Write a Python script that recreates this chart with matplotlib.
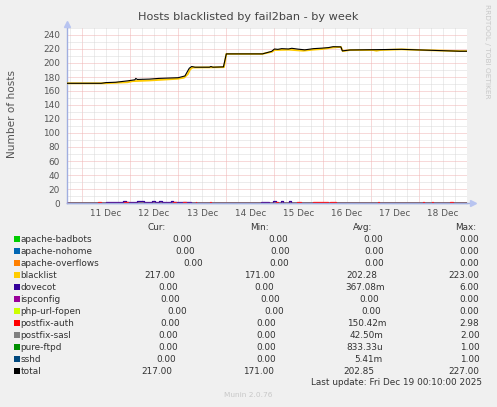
import matplotlib.pyplot as plt
from matplotlib.patches import Rectangle

W, H = 497, 407

# time in days since 11 Dec 00:00
day_labels = ['11 Dec', '12 Dec', '13 Dec', '14 Dec', '15 Dec', '16 Dec', '17 Dec', '18 Dec']

blacklist_t = [-0.32, 0.45, 0.95, 1.05, 1.4, 1.65, 2.0, 2.12, 2.2, 2.25, 2.3, 2.95, 3.0,
               3.75, 3.95, 4.0, 4.3, 4.6, 4.8, 5.0, 5.2, 5.38, 5.42, 5.57, 6.05, 6.12,
               6.2, 6.64, 7.05, 7.85, 8.02]
blacklist_v = [171, 171, 172.5, 174, 175, 176, 177.5, 179, 184, 191, 193.5, 194, 213,
               213, 216, 218.5, 219, 217.5, 219, 220, 222, 223, 217, 218.5, 218.5, 217.5,
               218.5, 219.5, 218.5, 217, 217]

total_t = [-0.32, 0.4, 0.5, 0.7, 0.95, 1.1, 1.12, 1.15, 1.4, 1.6, 2.0, 2.14, 2.23, 2.28,
           2.35, 2.65, 2.68, 2.72, 2.94, 3.0, 3.75, 3.94, 4.0, 4.07, 4.15, 4.29, 4.36,
           4.49, 4.63, 4.81, 4.98, 5.12, 5.22, 5.38, 5.41, 5.57, 6.64, 7.05, 7.85, 8.02]
total_v = [171, 171, 172, 172.5, 174.5, 176, 178, 176.5, 177, 178, 179, 181.5, 192.5, 195,
           194, 194, 195, 194, 194.5, 213, 213, 216.6, 220, 219.5, 220.5, 220, 221,
           219.8, 218.8, 220.5, 221.2, 222, 223.3, 223, 217.3, 218.6, 219.5, 218.6, 216.8, 216.8]

# bursts: (start day, end day, value)
dovecot_bursts = [(0.5, 0.85, 1.5), (0.85, 0.92, 3), (0.92, 1.15, 1.5), (1.15, 1.3, 3.5),
                  (1.3, 1.45, 1.5), (1.45, 1.52, 3), (1.52, 1.6, 1.5), (1.6, 1.66, 2.5),
                  (1.66, 1.85, 1.5), (1.85, 1.9, 2.5), (1.9, 2.27, 1.5),
                  (3.72, 3.89, 1.5), (3.97, 4.03, 3), (4.13, 4.17, 2.5), (4.3, 4.34, 2.5)]
postfix_auth_bursts = [(0.34, 0.40, 1.5), (0.88, 0.96, 1.5), (1.9, 1.96, 1.5), (2.1, 2.17, 1.5),
                       (2.36, 2.38, 1.5), (2.67, 2.69, 1.5), (4.03, 4.07, 1.5), (4.47, 4.55, 1.5),
                       (4.8, 5.11, 1.5), (5.15, 5.27, 1.5), (6.16, 6.18, 1.5), (7.09, 7.11, 1.5),
                       (7.28, 7.30, 1.5), (7.64, 7.7, 1.5)]

legend_names = ['apache-badbots', 'apache-nohome', 'apache-overflows', 'blacklist', 'dovecot',
                'ispconfig', 'php-url-fopen', 'postfix-auth', 'postfix-sasl', 'pure-ftpd',
                'sshd', 'total']
legend_colors = ['#00cc00', '#0066b3', '#ff8000', '#ffcc00', '#330099', '#990099',
                 '#ccff00', '#ff0000', '#808080', '#008f00', '#00487d', '#000000']
cur = ['0.00', '0.00', '0.00', '217.00', '0.00', '0.00', '0.00', '0.00', '0.00', '0.00', '0.00', '217.00']
mins = ['0.00', '0.00', '0.00', '171.00', '0.00', '0.00', '0.00', '0.00', '0.00', '0.00', '0.00', '171.00']
avgs = ['0.00', '0.00', '0.00', '202.28', '367.08m', '0.00', '0.00', '150.42m', '42.50m',
        '833.33u', '5.41m', '202.85']
maxs = ['0.00', '0.00', '0.00', '223.00', '6.00', '0.00', '0.00', '2.98', '2.00', '1.00', '1.00', '227.00']
# left edge (px) of each value, rrdtool column layout
cur_x = [172.7, 175.7, 183.3, 144, 158, 160.7, 167.3, 160.7, 158, 158, 156, 141.3]
min_x = [268.3, 270, 269.3, 244.3, 254.7, 260, 264.7, 256, 256, 256, 256, 243.3]
avg_x = [363.3, 364.3, 364.3, 346.7, 345, 359.3, 361.7, 346.7, 350, 346.7, 354, 343.3]

plt.rcParams['font.family'] = 'DejaVu Sans'

fig = plt.figure(figsize=(W / 100, H / 100), dpi=100, facecolor='#f0f0f0')
ax = fig.add_axes([67 / W, 1 - 203 / H, 400 / W, 175 / H])
ax.set_facecolor('white')
x0, x1 = -0.31, 8.0
ax.set_xlim(x0, x1)
ax.set_ylim(0, 250)

# grid
dot = (0, (1, 1))
for i in range(-1, 33):
    d = i * 0.25
    if x0 < d < x1:
        major = i % 4 == 0
        ax.axvline(d, color='#f0b4b4' if major else '#dadada', lw=0.72, ls=dot, zorder=1)
for v in range(10, 260, 10):
    ax.axhline(v, color='#f0b4b4' if v % 20 == 0 else '#dadada', lw=0.72, ls=dot, zorder=1)


def burst_line(bursts):
    xs, ys = [x0], [0]
    for s, e, v in bursts:
        xs += [s, s, e, e]
        ys += [0, v, v, 0]
    xs.append(x1)
    ys.append(0)
    return xs, ys


for c in legend_colors[:-1]:
    ax.plot([x0, x1], [0, 0], color=c, lw=1, zorder=2)
dx, dy = burst_line(dovecot_bursts)
ax.plot(dx, dy, color='#330099', lw=0.9, zorder=3)
px, py = burst_line(postfix_auth_bursts)
ax.plot(px, py, color='#ff0000', lw=0.9, zorder=3)
ax.plot(blacklist_t, blacklist_v, color='#ffcc00', lw=1.3, zorder=4)
ax.plot(total_t, total_v, color='black', lw=0.8, zorder=5)

# axes with arrows
axis_c = '#a0aee0'
ax.plot([x0, x1], [0, 0], color=axis_c, lw=1, zorder=6, clip_on=False)
ax.plot([0, 1.005], [0, 0], transform=ax.transAxes, color=axis_c, lw=1, clip_on=False)
ax.plot(1.015, 0, transform=ax.transAxes, marker='>', ms=5, color='#b8c4f0', clip_on=False)
ax.plot([0, 0], [0, 1.0], transform=ax.transAxes, color=axis_c, lw=1, clip_on=False)
ax.plot(0, 1.025, transform=ax.transAxes, marker='^', ms=5, color='#b8c4f0', clip_on=False)

for s in ax.spines.values():
    s.set_visible(False)
ax.set_xticks([i + 0.5 for i in range(len(day_labels))])
ax.set_xticklabels(day_labels)
ax.set_yticks(range(0, 241, 20))
ax.tick_params(length=0, labelsize=6.4, colors='#555555')
ax.tick_params(axis='x', pad=4)
ax.tick_params(axis='y', pad=5)


def px_text(x, y, s, **kw):
    fig.text(x / W, 1 - y / H, s, **kw)


px_text(248, 17, 'Hosts blacklisted by fail2ban - by week', ha='center', va='center',
        fontsize=8.1, color='#444444')
px_text(12, 114, 'Number of hosts', ha='center', va='center', rotation=90,
        fontsize=7.6, color='#555555')
px_text(487, 51, 'RRDTOOL / TOBI OETIKER', ha='center', va='center', rotation=270,
        fontsize=5.3, color='#c8c8c8')

lt = dict(fontsize=6.4, color='#333333', va='center')
px_text(148, 227.5, 'Cur:', ha='left', **lt)
px_text(250, 227.5, 'Min:', ha='left', **lt)
px_text(352.7, 227.5, 'Avg:', ha='left', **lt)
px_text(455, 227.5, 'Max:', ha='left', **lt)
for i, name in enumerate(legend_names):
    y = 239 + 12 * i
    fig.add_artist(Rectangle((14 / W, 1 - (y + 3) / H), 6 / W, 6 / H, transform=fig.transFigure,
                             facecolor=legend_colors[i], edgecolor='none'))
    px_text(20.5, y, name, ha='left', **lt)
    px_text(cur_x[i], y, cur[i], ha='left', **lt)
    px_text(min_x[i], y, mins[i], ha='left', **lt)
    px_text(avg_x[i], y, avgs[i], ha='left', **lt)
    px_text(479.5, y, maxs[i], ha='right', **lt)
px_text(482.3, 382.7, 'Last update: Fri Dec 19 00:10:00 2025', ha='right', **lt)
px_text(248, 395, 'Munin 2.0.76', ha='center', va='center', fontsize=5.3, color='#c8c8c8')

fig.savefig('out.png', dpi=100, facecolor=fig.get_facecolor())
